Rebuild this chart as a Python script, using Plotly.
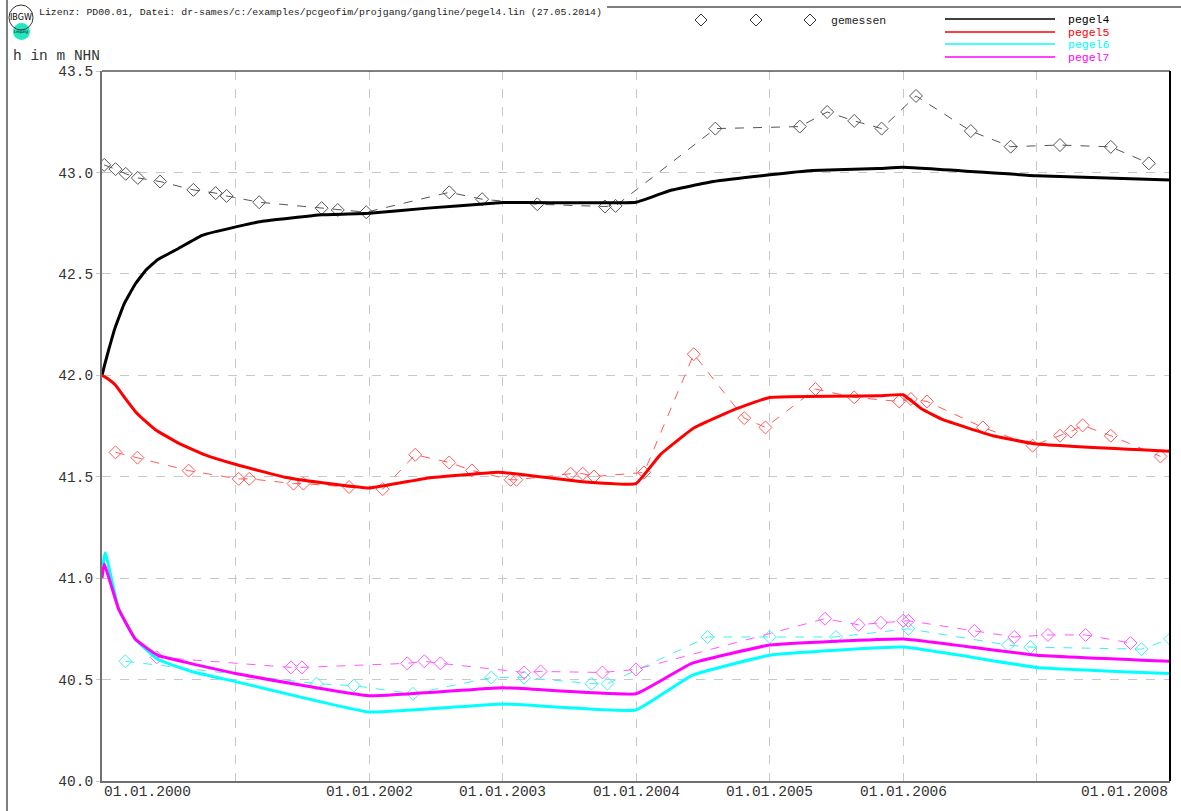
import plotly.graph_objects as go

# ---------------- data ----------------
p4_model_x = ["2000-01-01", "2000-01-08", "2000-01-20", "2000-02-05", "2000-03-01", "2000-04-01",
              "2000-05-01", "2000-06-01", "2000-07-23", "2000-10-01", "2001-01-04", "2001-03-12",
              "2001-08-24", "2002-01-01", "2002-06-10", "2002-12-05", "2003-01-01", "2004-01-01",
              "2004-04-01", "2004-07-30", "2005-01-01", "2005-04-28", "2005-10-24", "2006-01-01",
              "2007-01-01", "2008-01-01"]
p4_model_y = [42.00, 42.05, 42.13, 42.23, 42.35, 42.45, 42.52, 42.57, 42.62, 42.69, 42.733, 42.758,
              42.791, 42.799, 42.824, 42.848, 42.852, 42.853, 42.91, 42.955, 42.988, 43.009, 43.019,
              43.026, 42.984, 42.963]

p4_meas_x = ["2000-01-07", "2000-02-07", "2000-03-06", "2000-04-08", "2000-06-08", "2000-09-07",
             "2000-11-07", "2000-12-07", "2001-03-06", "2001-08-24", "2001-10-07", "2001-12-24",
             "2002-08-08", "2002-11-06", "2003-04-06", "2003-10-08", "2003-11-06", "2004-08-05",
             "2005-03-24", "2005-06-07", "2005-08-20", "2005-11-03", "2006-02-05", "2006-07-05",
             "2006-10-22", "2007-03-06", "2007-07-23", "2007-11-04"]
p4_meas_y = [43.037, 43.016, 42.993, 42.973, 42.955, 42.914, 42.898, 42.884, 42.853, 42.824, 42.815,
             42.804, 42.902, 42.868, 42.843, 42.832, 42.835, 43.216, 43.226, 43.298, 43.254, 43.216,
             43.377, 43.204, 43.127, 43.135, 43.126, 43.045]

p5_model_x = ["2000-01-01", "2000-01-15", "2000-02-06", "2000-03-05", "2000-04-01", "2000-05-01",
              "2000-05-26", "2000-07-28", "2000-10-09", "2001-01-04", "2001-05-16", "2001-09-11",
              "2002-01-01", "2002-06-12", "2002-12-06", "2003-01-01", "2003-07-31", "2004-01-01",
              "2004-03-07", "2004-06-07", "2004-09-24", "2005-01-01", "2005-10-25", "2006-01-01",
              "2006-02-20", "2006-04-20", "2006-09-03", "2007-01-01", "2008-01-01"]
p5_model_y = [42.00, 41.985, 41.953, 41.885, 41.822, 41.770, 41.732, 41.666, 41.608, 41.559, 41.497,
              41.466, 41.444, 41.494, 41.521, 41.521, 41.477, 41.466, 41.608, 41.740, 41.830, 41.891,
              41.899, 41.904, 41.835, 41.781, 41.702, 41.661, 41.625]

p5_meas_x = ["2000-02-07", "2000-04-07", "2000-08-25", "2001-01-09", "2001-02-07", "2001-06-08",
             "2001-07-05", "2001-11-07", "2002-02-07", "2002-05-07", "2002-08-08", "2002-10-09",
             "2003-01-23", "2003-02-08", "2003-07-06", "2003-08-08", "2003-09-08", "2004-01-23",
             "2004-06-07", "2004-10-23", "2004-12-20", "2005-05-06", "2005-08-20", "2005-12-21",
             "2006-01-22", "2006-03-07", "2006-08-07", "2006-12-21", "2007-03-06", "2007-04-05",
             "2007-05-07", "2007-07-23", "2007-12-06"]
p5_meas_y = [41.620, 41.594, 41.530, 41.489, 41.490, 41.466, 41.466, 41.449, 41.439, 41.608, 41.570,
             41.531, 41.485, 41.485, 41.515, 41.515, 41.501, 41.521, 42.104, 41.789, 41.743, 41.932,
             41.891, 41.871, 41.883, 41.871, 41.743, 41.653, 41.702, 41.723, 41.753, 41.702, 41.600]

p6_model_x = ["2000-01-01", "2000-01-10", "2000-02-15", "2000-04-01", "2000-06-01", "2000-09-01",
              "2001-01-01", "2002-01-01", "2003-01-01", "2004-01-01", "2004-06-01", "2005-01-01",
              "2006-01-01", "2007-01-01", "2008-01-01"]
p6_model_y = [41.03, 41.125, 40.85, 40.70, 40.60, 40.54, 40.49, 40.34, 40.38, 40.35, 40.52, 40.62,
              40.66, 40.56, 40.53]

p6_meas_x = ["2000-03-05", "2001-08-10", "2001-11-20", "2002-05-01", "2002-12-01", "2003-03-01",
             "2003-09-01", "2003-10-15", "2004-07-15", "2005-01-01", "2005-07-01", "2006-01-15",
             "2006-10-15", "2006-12-15", "2007-10-15", "2008-01-01"]
p6_meas_y = [40.59, 40.48, 40.47, 40.43, 40.51, 40.51, 40.48, 40.48, 40.71, 40.71, 40.71, 40.75,
             40.67, 40.66, 40.65, 40.70]

p7_model_x = ["2000-01-01", "2000-01-07", "2000-02-15", "2000-04-01", "2000-06-01", "2001-01-01",
              "2002-01-01", "2003-01-01", "2004-01-01", "2004-06-01", "2005-01-01", "2006-01-01",
              "2007-01-01", "2008-01-01"]
p7_model_y = [41.00, 41.07, 40.85, 40.70, 40.62, 40.53, 40.42, 40.46, 40.43, 40.58, 40.67, 40.70,
              40.62, 40.59]

p7_meas_x = ["2000-05-30", "2001-06-01", "2001-07-01", "2002-04-15", "2002-06-01", "2002-07-15",
             "2003-03-01", "2003-04-15", "2003-10-01", "2004-01-01", "2005-06-01", "2005-09-01",
             "2005-11-01", "2006-01-01", "2006-01-15", "2006-07-15", "2006-11-01", "2007-02-01",
             "2007-05-15", "2007-09-15"]
p7_meas_y = [40.61, 40.56, 40.56, 40.58, 40.59, 40.58, 40.535, 40.54, 40.535, 40.55, 40.80, 40.77,
             40.78, 40.79, 40.79, 40.74, 40.71, 40.72, 40.72, 40.68]

year_ticks = ["2000-01-01", "2001-01-01", "2002-01-01", "2003-01-01", "2004-01-01",
              "2005-01-01", "2006-01-01", "2007-01-01", "2008-01-01"]
year_labels = ["01.01.2000", "", "01.01.2002", "01.01.2003", "01.01.2004",
               "01.01.2005", "01.01.2006", "", "01.01.2008"]
y_ticks = [40.0, 40.5, 41.0, 41.5, 42.0, 42.5, 43.0, 43.5]

series_names = ["pegel4", "pegel5", "pegel6", "pegel7"]
series_colors = ["#000000", "#ff0000", "#00ffff", "#ff00ff"]
meas_colors = ["#555555", "#ff5a5a", "#40f0f0", "#ff5aff"]

# ---------------- figure ----------------
W, H = 1181, 811
ML, MR, MT, MB = 102, 11, 71, 30
PW, PH = W - ML - MR, H - MT - MB


def px(x):
    return (x - ML) / PW


def py(y):
    return (H - MB - y) / PH


fig = go.Figure()

models = [(p4_model_x, p4_model_y), (p5_model_x, p5_model_y),
          (p6_model_x, p6_model_y), (p7_model_x, p7_model_y)]
meas = [(p4_meas_x, p4_meas_y), (p5_meas_x, p5_meas_y),
        (p6_meas_x, p6_meas_y), (p7_meas_x, p7_meas_y)]

for i in range(4):
    mx, my = meas[i]
    fig.add_trace(go.Scatter(
        x=mx, y=my, mode="lines+markers", name="gemessen " + series_names[i],
        line=dict(color=meas_colors[i], width=1, dash="dash"),
        marker=dict(symbol="diamond-open", size=10, color=meas_colors[i], line=dict(width=1)),
        showlegend=False))
for i in range(4):
    x, y = models[i]
    fig.add_trace(go.Scatter(
        x=x, y=y, mode="lines", name=series_names[i],
        line=dict(color=series_colors[i], width=3, shape="spline", smoothing=0.3),
        showlegend=False))

font_mono = "Liberation Mono, DejaVu Sans Mono, monospace"

fig.update_layout(
    width=W, height=H,
    margin=dict(l=ML, r=MR, t=MT, b=MB),
    paper_bgcolor="white", plot_bgcolor="white",
    showlegend=False,
    font=dict(family=font_mono, color="#333333"),
    xaxis=dict(type="date", range=["2000-01-01", "2008-01-01"],
               tickvals=year_ticks, showticklabels=False,
               showgrid=True, gridcolor="#c8c8c8", griddash="dash", gridwidth=1,
               showline=True, linecolor="#707070", linewidth=2, zeroline=False,
               ticks=""),
    yaxis=dict(range=[40.0, 43.5], tickvals=y_ticks, tickformat=".1f",
               showgrid=True, gridcolor="#c8c8c8", griddash="dash", gridwidth=1,
               showline=True, linecolor="#707070", linewidth=2, zeroline=False,
               ticks="outside", ticklen=4, tickcolor="#c8c8c8",
               tickfont=dict(family=font_mono, size=14.5, color="#333333")),
)

anns = []
for tv, tl in zip(year_ticks, year_labels):
    if not tl:
        continue
    anchor = "center"
    if tv == year_ticks[0]:
        anchor = "left"
    elif tv == year_ticks[-1]:
        anchor = "right"
    anns.append(dict(x=tv, y=0, xref="x", yref="paper", text=tl, showarrow=False,
                     xanchor=anchor, yanchor="top", yshift=-1,
                     font=dict(family=font_mono, size=14.5, color="#333333")))

anns.append(dict(x=px(37), y=py(12), xref="paper", yref="paper",
                 text="Lizenz: PD00.01, Datei: dr-sames/c:/examples/pcgeofim/projgang/gangline/pegel4.lin (27.05.2014)",
                 showarrow=False, xanchor="left", yanchor="middle",
                 font=dict(family=font_mono, size=9.9, color="#222222")))
anns.append(dict(x=px(11), y=py(56), xref="paper", yref="paper", text="h in m NHN",
                 showarrow=False, xanchor="left", yanchor="middle",
                 font=dict(family=font_mono, size=14.5, color="#333333")))
anns.append(dict(x=px(21), y=py(17), xref="paper", yref="paper", text="IBGW",
                 showarrow=False, xanchor="center", yanchor="middle",
                 font=dict(family="DejaVu Sans", size=8, color="#000000")))
anns.append(dict(x=px(21), y=py(31), xref="paper", yref="paper", text="Leipzig",
                 showarrow=False, xanchor="center", yanchor="middle",
                 font=dict(family="DejaVu Sans", size=4, color="#000000")))

anns.append(dict(x=px(829), y=py(20), xref="paper", yref="paper", text="gemessen",
                 showarrow=False, xanchor="left", yanchor="middle",
                 font=dict(family=font_mono, size=11.5, color="#222222")))
leg_y = [19, 32, 44, 57]
for i in range(4):
    anns.append(dict(x=px(1066), y=py(leg_y[i]), xref="paper", yref="paper", text=series_names[i],
                     showarrow=False, xanchor="left", yanchor="middle",
                     font=dict(family=font_mono, size=11.5, color=series_colors[i])))

shapes = []
shapes.append(dict(type="line", xref="paper", yref="paper", x0=0, x1=1, y0=1, y1=1,
                   line=dict(color="#000000", width=1)))
shapes.append(dict(type="line", xref="paper", yref="paper", x0=1, x1=1, y0=0, y1=1,
                   line=dict(color="#000000", width=2)))
shapes.append(dict(type="line", xref="paper", yref="paper", x0=px(7), x1=px(7), y0=py(0), y1=py(811),
                   line=dict(color="#555555", width=1.5)))
shapes.append(dict(type="line", xref="paper", yref="paper", x0=px(607), x1=px(1181), y0=py(7), y1=py(7),
                   line=dict(color="#555555", width=1.5)))
shapes.append(dict(type="circle", xref="paper", yref="paper", x0=px(13), x1=px(30), y0=py(40), y1=py(23),
                   fillcolor="#22e6c0", line=dict(color="#22e6c0", width=0)))
shapes.append(dict(type="circle", xref="paper", yref="paper", x0=px(9), x1=px(33), y0=py(30), y1=py(5),
                   fillcolor="rgba(255,255,255,0)", line=dict(color="#333333", width=1)))
for i in range(4):
    shapes.append(dict(type="line", xref="paper", yref="paper", x0=px(945), x1=px(1055),
                       y0=py(leg_y[i]), y1=py(leg_y[i]),
                       line=dict(color=series_colors[i], width=1.5)))
for cx in [701, 756, 810]:
    cy, r = 20, 6
    path = "M {} {} L {} {} L {} {} L {} {} Z".format(
        px(cx), py(cy - r), px(cx + r), py(cy), px(cx), py(cy + r), px(cx - r), py(cy))
    shapes.append(dict(type="path", xref="paper", yref="paper", path=path,
                       line=dict(color="#333333", width=1)))

fig.update_layout(annotations=anns, shapes=shapes)

fig.write_html("out.html", config={"displayModeBar": False},
               post_script="document.body.style.margin='0';document.body.style.overflow='hidden';")
